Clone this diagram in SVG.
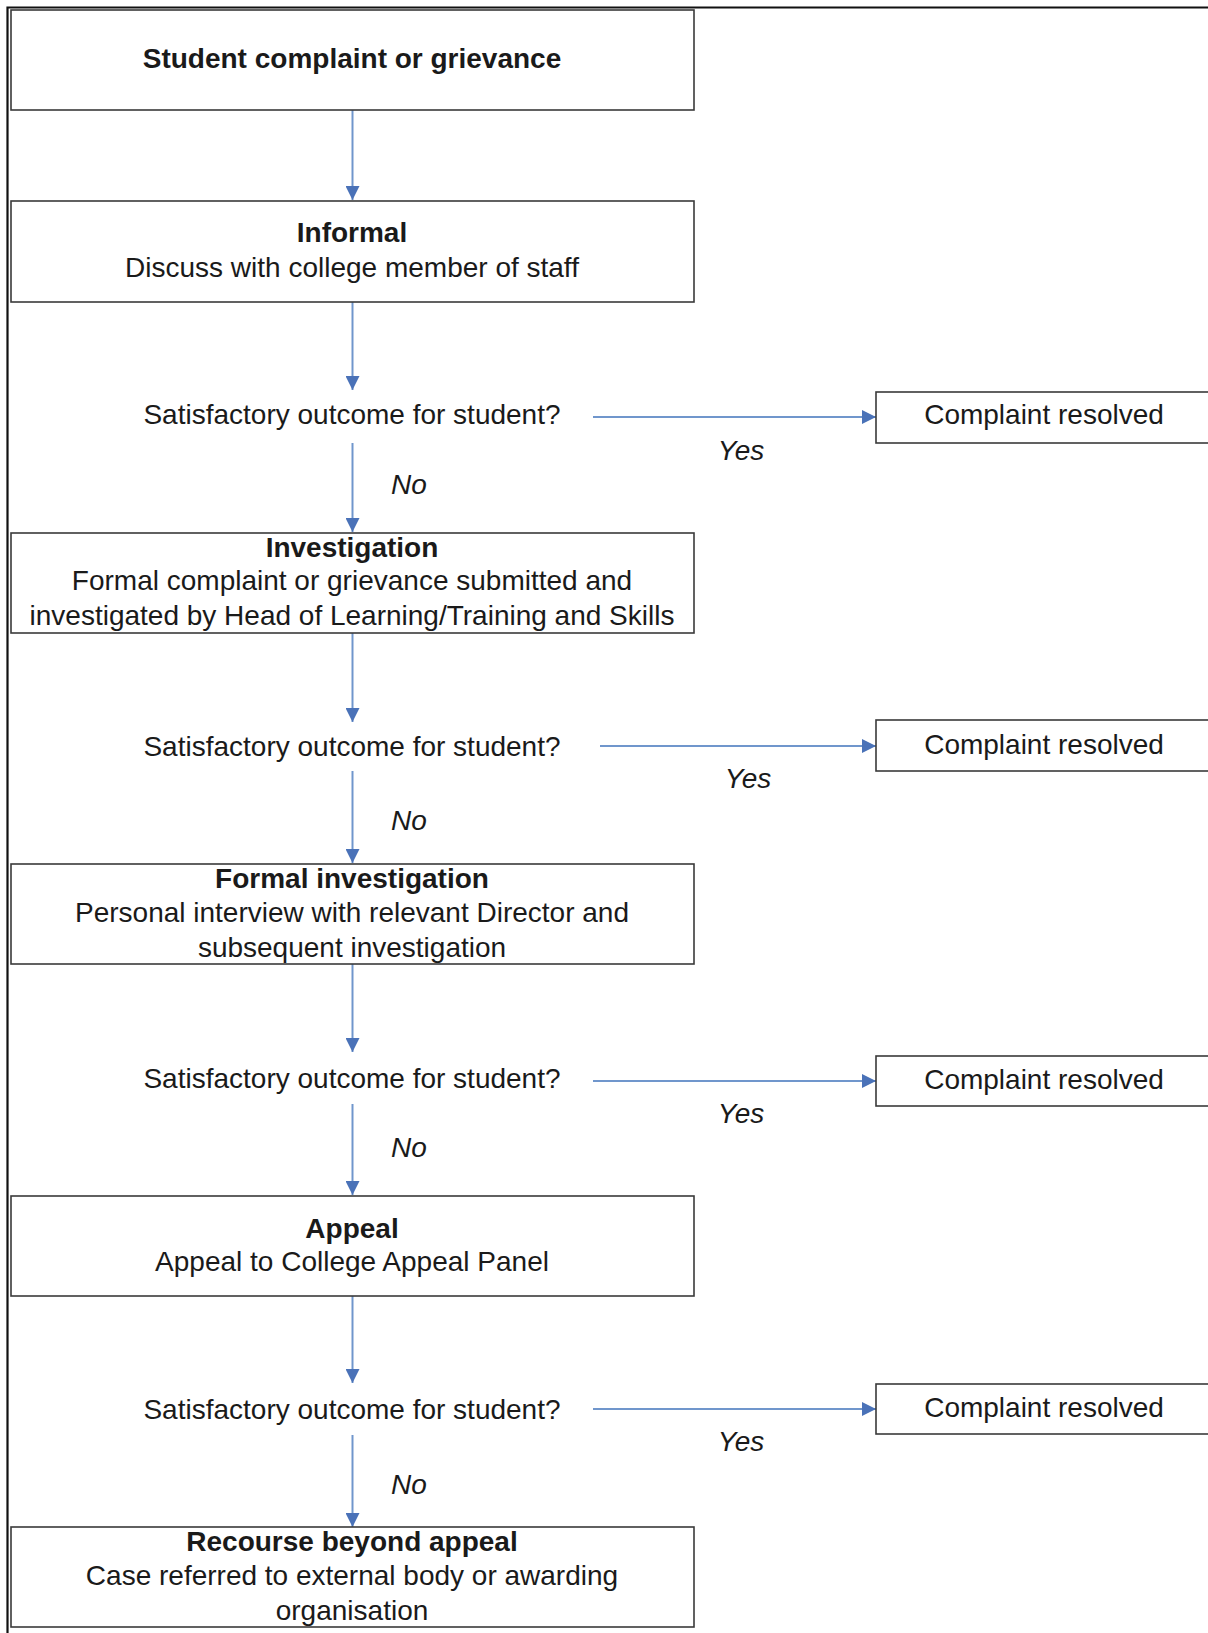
<svg xmlns="http://www.w3.org/2000/svg" width="1208" height="1633" viewBox="0 0 1208 1633">
<style>
  .box { fill: #ffffff; stroke: #3a3a3a; stroke-width: 1.6; }
  .t { font-family: "Liberation Sans", Arial, sans-serif; font-size: 28px; fill: #1a1a1a; text-anchor: middle; }
  .b { font-weight: bold; }
  .i { font-style: italic; }
  .conn { stroke: #7096cc; stroke-width: 2; fill: none; }
</style>
<defs>
  <marker id="arr" markerUnits="userSpaceOnUse" markerWidth="16" markerHeight="14" refX="14" refY="7" orient="auto">
    <path d="M0,0 L14,7 L0,14 Z" fill="#4a72b8"/>
  </marker>
</defs>
<rect width="1208" height="1633" fill="#ffffff"/>
<path d="M7.5,1633 L7.5,7.5 L1208,7.5" fill="none" stroke="#111" stroke-width="2.2"/>

<g id="connectors">
  <line class="conn" x1="352.5" y1="110" x2="352.5" y2="200" marker-end="url(#arr)"/>
  <line class="conn" x1="352.5" y1="302" x2="352.5" y2="390" marker-end="url(#arr)"/>
  <line class="conn" x1="352.5" y1="443" x2="352.5" y2="532" marker-end="url(#arr)"/>
  <line class="conn" x1="352.5" y1="633" x2="352.5" y2="722" marker-end="url(#arr)"/>
  <line class="conn" x1="352.5" y1="771" x2="352.5" y2="863" marker-end="url(#arr)"/>
  <line class="conn" x1="352.5" y1="964" x2="352.5" y2="1052" marker-end="url(#arr)"/>
  <line class="conn" x1="352.5" y1="1104" x2="352.5" y2="1195" marker-end="url(#arr)"/>
  <line class="conn" x1="352.5" y1="1296" x2="352.5" y2="1383" marker-end="url(#arr)"/>
  <line class="conn" x1="352.5" y1="1435" x2="352.5" y2="1527" marker-end="url(#arr)"/>
  <line class="conn" x1="593" y1="417" x2="876" y2="417" marker-end="url(#arr)"/>
  <line class="conn" x1="600" y1="746" x2="876" y2="746" marker-end="url(#arr)"/>
  <line class="conn" x1="593" y1="1081" x2="876" y2="1081" marker-end="url(#arr)"/>
  <line class="conn" x1="593" y1="1409" x2="876" y2="1409" marker-end="url(#arr)"/>
  <text class="t i" x="741" y="460">Yes</text>
  <text class="t i" x="748" y="788">Yes</text>
  <text class="t i" x="741" y="1123">Yes</text>
  <text class="t i" x="741" y="1451">Yes</text>
  <text class="t i" x="409" y="494">No</text>
  <text class="t i" x="409" y="830">No</text>
  <text class="t i" x="409" y="1157">No</text>
  <text class="t i" x="409" y="1494">No</text>
</g>

<g id="start">
  <rect class="box" x="11" y="10" width="683" height="100"/>
  <text class="t b" x="352" y="68">Student complaint or grievance</text>
</g>
<g id="informal">
  <rect class="box" x="11" y="201" width="683" height="101"/>
  <text class="t b" x="352" y="242">Informal</text>
  <text class="t" x="352" y="277">Discuss with college member of staff</text>
</g>
<g id="q1"><text class="t" x="352" y="424">Satisfactory outcome for student?</text></g>
<g id="r1">
  <rect class="box" x="876" y="392" width="340" height="51"/>
  <text class="t" x="1044" y="424">Complaint resolved</text>
</g>
<g id="investigation">
  <rect class="box" x="11" y="533" width="683" height="100"/>
  <text class="t b" x="352" y="557">Investigation</text>
  <text class="t" x="352" y="590">Formal complaint or grievance submitted and</text>
  <text class="t" x="352" y="625">investigated by Head of Learning/Training and Skills</text>
</g>
<g id="q2"><text class="t" x="352" y="756">Satisfactory outcome for student?</text></g>
<g id="r2">
  <rect class="box" x="876" y="720" width="340" height="51"/>
  <text class="t" x="1044" y="754">Complaint resolved</text>
</g>
<g id="formal">
  <rect class="box" x="11" y="864" width="683" height="100"/>
  <text class="t b" x="352" y="888">Formal investigation</text>
  <text class="t" x="352" y="922">Personal interview with relevant Director and</text>
  <text class="t" x="352" y="957">subsequent investigation</text>
</g>
<g id="q3"><text class="t" x="352" y="1088">Satisfactory outcome for student?</text></g>
<g id="r3">
  <rect class="box" x="876" y="1056" width="340" height="50"/>
  <text class="t" x="1044" y="1089">Complaint resolved</text>
</g>
<g id="appeal">
  <rect class="box" x="11" y="1196" width="683" height="100"/>
  <text class="t b" x="352" y="1238">Appeal</text>
  <text class="t" x="352" y="1271">Appeal to College Appeal Panel</text>
</g>
<g id="q4"><text class="t" x="352" y="1419">Satisfactory outcome for student?</text></g>
<g id="r4">
  <rect class="box" x="876" y="1384" width="340" height="50"/>
  <text class="t" x="1044" y="1417">Complaint resolved</text>
</g>
<g id="recourse">
  <rect class="box" x="11" y="1527" width="683" height="100"/>
  <text class="t b" x="352" y="1551">Recourse beyond appeal</text>
  <text class="t" x="352" y="1585">Case referred to external body or awarding</text>
  <text class="t" x="352" y="1620">organisation</text>
</g>
</svg>
